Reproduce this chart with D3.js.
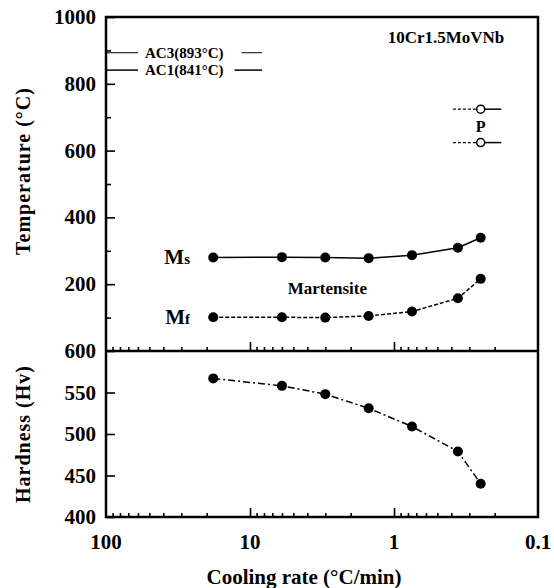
<!DOCTYPE html>
<html lang="en">
<head>
  <meta charset="UTF-8" />
  <title>10Cr1.5MoVNb CCT</title>
  <script src="https://d3js.org/d3.v7.min.js"></script>
  <style>
    body { margin: 0; background: #fff; }
    svg { font-family: "Liberation Serif", "Times New Roman", serif; font-weight: bold; }
    .frame { fill: none; stroke: #000; stroke-width: 2.5px; }
    .tick-label { font-size: 21px; }
    .title { font-size: 20px; }
  </style>
</head>
<body>
<svg id="chart" width="554" height="588"></svg>

<script>
// cooling rates (°C/min) of the measured points
const rates = [18, 6, 3, 1.5, 0.75, 0.36, 0.25];
const msTemp = [280, 281, 280, 278, 287, 309, 339];
const mfTemp = [101, 101, 100, 105, 118, 158, 216];
const hardness = [567, 558, 548, 531, 509, 479, 440];

const acLines = [
  { label: "AC3(893°C)", temp: 893 },
  { label: "AC1(841°C)", temp: 841 }
];
const pTemps = [724, 624];
const pRate = 0.25;

const xTicks = [100, 10, 1, 0.1];
const tempTicks = [200, 400, 600, 800, 1000];
const hardTicks = [400, 450, 500, 550, 600];

const svg = d3.select("#chart");
const plotL = 106, plotR = 538, plotT = 17, plotM = 351, plotB = 517;

const x = d3.scaleLog().domain([100, 0.1]).range([plotL, plotR]);
const yT = d3.scaleLinear().domain([0, 1000]).range([plotM, plotT]);
const yH = d3.scaleLinear().domain([400, 600]).range([plotB, plotM]);

// log minor ticks
const minor = [];
[100, 10, 1].forEach(d => { for (let k = 2; k <= 9; k++) minor.push(d * k / 10); });

function xAxisTicks(yPos) {
  const g = svg.append("g").attr("transform", `translate(0,${yPos})`);
  g.call(d3.axisBottom(x).tickValues(minor).tickSize(-3).tickFormat(""));
  g.append("g").call(d3.axisBottom(x).tickValues([10, 1]).tickSize(-8).tickFormat(""));
  g.selectAll(".domain").remove();
  g.selectAll("line").attr("stroke", "#000").attr("stroke-width", 1.6);
  return g;
}
xAxisTicks(plotM - 1);
xAxisTicks(plotB - 1);

// bottom x labels
svg.append("g").selectAll("text").data(xTicks).join("text")
  .attr("class", "tick-label")
  .attr("x", d => x(d)).attr("y", 549)
  .attr("text-anchor", "middle")
  .text(d => d);

// temperature y axis
const gT = svg.append("g").attr("transform", `translate(${plotL + 1},0)`);
gT.call(d3.axisRight(yT).tickValues([100, 300, 500, 700, 900]).tickSize(4).tickFormat(""));
gT.append("g").call(d3.axisRight(yT).tickValues(tempTicks).tickSize(8).tickFormat(""));
gT.selectAll(".domain").remove();
gT.selectAll("line").attr("stroke", "#000").attr("stroke-width", 1.6);
svg.append("g").selectAll("text").data(tempTicks).join("text")
  .attr("class", "tick-label")
  .attr("x", 96).attr("y", d => yT(d) + 7)
  .attr("text-anchor", "end")
  .text(d => d);

// hardness y axis
const gH = svg.append("g").attr("transform", `translate(${plotL + 1},0)`);
gH.call(d3.axisRight(yH).tickValues(hardTicks).tickSize(8).tickFormat(""));
gH.selectAll(".domain").remove();
gH.selectAll("line").attr("stroke", "#000").attr("stroke-width", 1.6);
svg.append("g").selectAll("text").data(hardTicks).join("text")
  .attr("class", "tick-label")
  .attr("x", 96).attr("y", d => yH(d) + 7)
  .attr("text-anchor", "end")
  .text(d => d);

// frame + panel divider
svg.append("rect").attr("class", "frame")
  .attr("x", plotL).attr("y", plotT).attr("width", plotR - plotL).attr("height", plotB - plotT);
svg.append("line").attr("x1", plotL).attr("x2", plotR).attr("y1", plotM).attr("y2", plotM)
  .attr("stroke", "#000").attr("stroke-width", 2.5);

// axis titles
svg.append("text").attr("class", "title")
  .attr("transform", "translate(30,171) rotate(-90)")
  .attr("text-anchor", "middle").attr("letter-spacing", 1)
  .text("Temperature  (°C)");
svg.append("text").attr("class", "title")
  .attr("transform", "translate(30,434) rotate(-90)")
  .attr("text-anchor", "middle").attr("letter-spacing", 1)
  .text("Hardness  (Hv)");
svg.append("text").attr("class", "title")
  .attr("x", 304).attr("y", 584)
  .attr("text-anchor", "middle").style("font-size", "21px")
  .text("Cooling rate (°C/min)");

// Ms / Mf / hardness curves
const msData = rates.map((r, i) => ({ r, v: msTemp[i] }));
const mfData = rates.map((r, i) => ({ r, v: mfTemp[i] }));
const hvData = rates.map((r, i) => ({ r, v: hardness[i] }));

function curve(data, y, dash) {
  svg.append("path").datum(data)
    .attr("fill", "none").attr("stroke", "#000").attr("stroke-width", 1.5)
    .attr("stroke-dasharray", dash)
    .attr("d", d3.line().x(d => x(d.r)).y(d => y(d.v)));
  svg.append("g").selectAll("circle").data(data).join("circle")
    .attr("cx", d => x(d.r)).attr("cy", d => y(d.v)).attr("r", 5).attr("fill", "#000");
}
curve(msData, yT, null);
curve(mfData, yT, "4,2");
curve(hvData, yH, "7,3,2,3");

// Ms / Mf labels
[["s", msTemp[0]], ["f", mfTemp[0]]].forEach(([sub, v]) => {
  const t = svg.append("text").attr("x", 190).attr("y", yT(v) + 7)
    .attr("text-anchor", "end").attr("font-size", 21);
  t.append("tspan").text("M");
  t.append("tspan").attr("font-size", 15).text(sub);
});

svg.append("text").attr("x", x(2.9)).attr("y", yT(190) + 6)
  .attr("text-anchor", "middle").attr("font-size", 17).text("Martensite");

svg.append("text").attr("x", 446).attr("y", 43)
  .attr("text-anchor", "middle").attr("font-size", 17).text("10Cr1.5MoVNb");

// AC1 / AC3 marks
acLines.forEach((a, i) => {
  const yy = yT(a.temp);
  const t = svg.append("text").attr("x", 145).attr("y", yy + 5)
    .attr("font-size", 15).text(a.label);
  const w = t.node().getComputedTextLength();
  svg.append("line").attr("x1", plotL).attr("x2", 138).attr("y1", yy).attr("y2", yy)
    .attr("stroke", "#000").attr("stroke-width", i === 0 ? 1 : 1.5);
  svg.append("line").attr("x1", 145 + w + (i === 0 ? 18 : 11)).attr("x2", 262)
    .attr("y1", yy).attr("y2", yy)
    .attr("stroke", "#000").attr("stroke-width", i === 0 ? 1 : 1.5);
});

// pearlite start / finish marks
pTemps.forEach(v => {
  const yy = yT(v);
  svg.append("line").attr("x1", x(0.39)).attr("x2", x(pRate) - 4)
    .attr("y1", yy).attr("y2", yy)
    .attr("stroke", "#000").attr("stroke-width", 1.2).attr("stroke-dasharray", "3,2");
  svg.append("line").attr("x1", x(pRate) + 4).attr("x2", x(0.18))
    .attr("y1", yy).attr("y2", yy)
    .attr("stroke", "#000").attr("stroke-width", 1.5);
  svg.append("circle").attr("cx", x(pRate)).attr("cy", yy).attr("r", 4)
    .attr("fill", "#fff").attr("stroke", "#000").attr("stroke-width", 1.5);
});
svg.append("text").attr("x", x(pRate)).attr("y", yT(674) + 6)
  .attr("text-anchor", "middle").attr("font-size", 16).text("P");
</script>
</body>
</html>
